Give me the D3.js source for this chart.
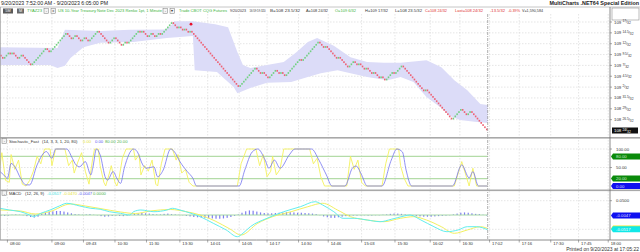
<!DOCTYPE html>
<html>
<head>
<meta charset="utf-8">
<script src="https://cdn.jsdelivr.net/npm/d3@7"></script>
<style>
  body { margin: 0; background: #fff; }
  svg { display: block; font-family: "Liberation Sans", Arial, sans-serif; }
</style>
</head>
<body>
<svg id="chart" width="640" height="252"></svg>
<script>
// renko turning points, price in 32nds above 108 (box = half a 32nd)
var pivots = [41.5, 40.5, 42, 41.5, 42, 40.5, 41.5, 40, 39, 43, 42, 46.5, 45, 46, 44.5, 45.5, 44.5, 47,
  44, 45, 45.5, 43.5, 44.5, 44, 45, 47, 46.5, 47, 45.5, 46.5, 45.5, 46.5, 46, 49, 47.5, 48, 47, 47.5,
  46.5, 47, 34, 38.5, 37, 37.5, 36, 38, 37, 37.5, 36.5, 40.5, 40, 44.5, 43, 43.5, 40.5, 41, 38.5, 40,
  39, 39.5, 38, 38.5, 37, 37.5, 36, 36.5, 35.5, 37.5, 37, 39, 33, 33.5, 26.5, 29, 27.5, 28.5, 24];
var box = 0.5;

var priceTicks = [49, 46.5, 44, 41.5, 39, 36.5, 34, 31.5, 29, 26.5];
var lastPrice = 24;

// envelope around price: [bar, price]
var bandUpper = [[0, 43.2], [31, 43.0], [33, 45.0], [35, 47.2], [54, 46.9], [70, 47.2], [89, 47.3], [92, 48.1],
  [94, 49.2], [104, 49.2], [116, 48.5], [123, 47.8], [128, 42.1], [131, 39.1], [135, 38.4], [144, 39.1],
  [153, 39.8], [160, 42.1], [166, 44.4], [171, 45.3], [180, 43.5], [189, 40.9], [198, 39.8], [207, 39.6],
  [216, 39.6], [230, 40.2], [238, 38.6], [245, 35.6], [252, 33.3], [259, 30.1], [263, 29.9]];
var bandLower = [[0, 39.1], [27, 39.1], [31, 38.4], [35, 38.9], [38, 40.7], [45, 43.2], [54, 44.2], [72, 44.4],
  [90, 45.3], [104, 45.8], [105, 37.9], [117, 37.5], [126, 34.0], [128, 32.6], [135, 33.8], [144, 35.0],
  [157, 35.2], [166, 36.3], [173, 37.2], [182, 37.9], [189, 37.2], [198, 36.3], [209, 35.6], [216, 36.3],
  [223, 35.2], [230, 31.7], [238, 29.2], [243, 27.3], [248, 26.4], [256, 26.0], [263, 25.7]];
var alerts = [[103, 48.5]];

var timeLabels = ["08:00", "09:00", "09:43", "10:30", "11:30", "13:30", "14:01", "14:05", "14:17", "14:30",
  "14:46", "15:03", "15:30", "16:02", "16:30", "17:02", "17:16", "17:30", "17:45", "18:00"];
var timeBars = [4, 28, 45, 62, 79, 97, 112, 129, 144, 161, 177, 195, 213, 232, 248, 264, 280, 297, 312, 328];

// Stochastic fast: [bar, value]
var stochK = [[0, 55], [1, 90], [3, 15], [5, 10], [6, 85], [8, 45], [10, 70], [12, 5], [14, 0], [16, 15], [18, 40],
  [20, 80], [22, 60], [24, 100], [27, 100], [28, 55], [30, 100], [35, 100], [37, 55], [39, 70], [40, 35], [42, 65],
  [44, 90], [46, 40], [48, 5], [50, 75], [51, 100], [53, 100], [54, 55], [56, 10], [57, 0], [59, 35], [60, 55],
  [62, 10], [63, 0], [64, 15], [66, 75], [68, 100], [72, 100], [73, 70], [75, 85], [76, 30], [78, 55], [80, 40],
  [82, 70], [84, 5], [85, 0], [87, 60], [89, 100], [93, 100], [95, 70], [96, 85], [98, 35], [100, 45], [102, 10],
  [104, 0], [128, 0], [130, 60], [133, 100], [138, 100], [140, 55], [142, 85], [144, 25], [146, 40], [147, 80],
  [149, 30], [151, 45], [153, 100], [167, 100], [169, 60], [171, 75], [173, 25], [175, 0], [187, 0], [189, 80],
  [191, 45], [193, 70], [195, 10], [197, 0], [206, 0], [208, 60], [210, 100], [215, 100], [216, 55], [218, 20],
  [220, 0], [245, 0], [249, 66], [253, 0], [255, 48], [257, 0], [263, 0]];
var stochD = [[0, 39], [2, 30], [4, 21], [6, 61], [8, 52], [11, 22], [14, 3], [16, 3], [20, 57], [25, 93], [28, 75],
  [30, 100], [36, 100], [39, 75], [41, 57], [43, 52], [46, 66], [49, 30], [50, 48], [52, 100], [54, 84], [57, 21],
  [58, 16], [61, 39], [63, 21], [65, 7], [67, 48], [72, 100], [74, 93], [77, 57], [79, 48], [83, 52], [85, 25],
  [88, 43], [92, 100], [94, 93], [97, 66], [101, 39], [104, 21], [106, 0], [129, 0], [132, 43], [136, 92],
  [139, 100], [143, 70], [145, 48], [148, 70], [151, 48], [156, 84], [159, 100], [168, 100], [172, 70], [176, 30],
  [179, 0], [186, 0], [190, 48], [192, 54], [195, 30], [198, 0], [206, 0], [211, 70], [214, 100], [217, 92],
  [219, 43], [222, 0], [244, 0], [249, 57], [253, 22], [255, 39], [258, 0], [263, 0]];
var stochLevels = [80, 20];

// MACD (12, 26, 9): [bar, value]
var macdLine = [[0, 0.0234], [5, 0.0175], [11, 0.0115], [16, 0], [18, -0.0059], [22, 0.0059], [27, 0.0175],
  [32, 0.0315], [36, 0.0409], [43, 0.0315], [49, 0.0234], [54, 0.02], [59, 0.0115], [65, 0.0059], [70, 0],
  [72, 0.0115], [76, 0.0175], [83, 0.0115], [90, 0.0175], [93, 0.0234], [97, 0.0175], [103, 0.0059],
  [108, -0.0059], [115, -0.029], [122, -0.0524], [128, -0.0759], [131, -0.064], [135, -0.0409], [144, -0.0115],
  [153, 0.0115], [162, 0.029], [170, 0.0465], [174, 0.035], [180, 0.0115], [185, -0.0115], [191, -0.0115],
  [198, -0.0175], [205, -0.0234], [211, -0.015], [218, -0.0035], [221, 0], [227, -0.0175], [234, -0.0409],
  [241, -0.0584], [247, -0.0524], [252, -0.0409], [257, -0.0409], [263, -0.0517]];
var signalLine = [[0, 0.0175], [11, 0.014], [19, 0.0035], [27, 0.0122], [38, 0.0385], [46, 0.0315], [54, 0.0227],
  [65, 0.0105], [73, 0.0052], [81, 0.014], [92, 0.0192], [100, 0.0122], [108, 0], [116, -0.021], [124, -0.049],
  [130, -0.07], [139, -0.029], [147, -0.0059], [157, 0.0115], [166, 0.029], [174, 0.041], [182, 0.0175],
  [189, -0.0059], [198, -0.0175], [207, -0.0234], [216, -0.0115], [223, -0.0059], [230, -0.0175], [238, -0.0409],
  [245, -0.064], [252, -0.0524], [259, -0.0409], [263, -0.047]];
// histogram, one value every 2 bars
var macdHist = [-0.002, -0.003, -0.002, 0.001, 0.002, 0.001, -0.001, -0.004, -0.007, -0.009, -0.006,
  0.004, 0.008, 0.011, 0.013, 0.014, 0.014, 0.012, 0.009, 0.006, 0.003, 0.002, 0.001, 0.002, 0.003, 0.001, -0.001,
  -0.004, -0.006, -0.005, -0.003, -0.002, -0.003, -0.004, -0.002, 0.001, 0.004, 0.006, 0.007, 0.006, 0.005, 0.003,
  0.002, 0.002, 0.004, 0.005, 0.003, 0.002, 0.001, -0.001, -0.003, -0.005, -0.007, -0.008, -0.009, -0.010, -0.011,
  -0.012, -0.013, -0.013, -0.012, -0.010, -0.007, -0.003, 0.002, 0.008, 0.013, 0.016, 0.015, 0.012, 0.009, 0.007,
  0.006, 0.006, 0.007, 0.008, 0.009, 0.010, 0.010, 0.009, 0.008, 0.008, 0.007, 0.006, 0.005, 0.003, -0.001, -0.005,
  -0.008, -0.010, -0.010, -0.008, -0.006, -0.004, -0.003, -0.002, -0.002, -0.001, -0.001, -0.002, -0.002, -0.001,
  -0.001, 0.001, 0.002, 0.004, 0.005, 0.005, 0.004, 0.002, -0.001, -0.003, -0.004, -0.005, -0.006, -0.006, -0.006,
  -0.005, -0.004, -0.003, -0.002, -0.001, 0.002, 0.005, 0.008, 0.009, 0.008, 0.006, 0.004, 0.003, 0.001, -0.002];

var headerItems = [
  {x: 27, w: 15, t: "TYAZ23", c: "#3cb43c"},
  {x: 58, w: 104, t: "US 10-Year Treasury Note Dec 2023   Renko 1pt, 1 Minute", c: "#3cb43c"},
  {x: 179, w: 48, t: "Trade   CBOT   CQG   Futures", c: "#3cb43c"},
  {x: 230, w: 16, t: "9/20/2023", c: "#333"},
  {x: 249.5, w: 16, t: "16:59:59.320", c: "#333"},
  {x: 270, w: 30, t: "B=108 23.5/32", c: "#333"},
  {x: 306, w: 22, t: "A=108 24/32", c: "#333"},
  {x: 335, w: 21, t: "O=109 6/32", c: "#3cb43c"},
  {x: 365, w: 23, t: "H=109 17/32", c: "#333"},
  {x: 395, w: 27, t: "L=108 23.5/32", c: "#333"},
  {x: 425, w: 22, t: "C=108 24/32", c: "#e03030"},
  {x: 455, w: 28, t: "Last=108 24/32", c: "#e03030"},
  {x: 490, w: 15, t: "-13.5/32", c: "#e03030"},
  {x: 508, w: 12, t: "-0.39%", c: "#e03030"},
  {x: 522, w: 21, t: "V=1,590,584", c: "#333"}
];

// build the renko bricks from the turning points
var bricks = [];
for (var i = 1; i < pivots.length; i++) {
  var a = pivots[i - 1], b = pivots[i];
  var dir = b > a ? 1 : -1;
  var n = Math.round(Math.abs(b - a) / box);
  for (var s = 0; s < n; s++) {
    var p0 = a + dir * box * s;
    bricks.push({lo: Math.min(p0, p0 + dir * box), hi: Math.max(p0, p0 + dir * box), up: dir > 0});
  }
}

var svg = d3.select("#chart");
var plotRight = 610, lastX = 487.7;

var x = d3.scaleLinear().domain([0, bricks.length]).range([0, lastX]);
var yP = d3.scaleLinear().domain([24, 49]).range([130.5, 22]);
var yS = d3.scaleLinear().domain([0, 100]).range([186, 149]);
var yM = d3.scaleLinear().domain([0, 0.05]).range([215, 200.7]);

var panes = [{top: 14, bottom: 137}, {top: 138.5, bottom: 189.5}, {top: 191, bottom: 240}];
var defs = svg.append("defs");
panes.forEach(function(p, k) {
  defs.append("clipPath").attr("id", "clip" + k)
    .append("rect").attr("x", 0).attr("y", p.top).attr("width", plotRight).attr("height", p.bottom - p.top);
});

svg.append("rect").attr("width", 640).attr("height", 252).attr("fill", "#fff");

// title row
svg.append("text").attr("x", 1).attr("y", 5.2).attr("font-size", 5.2).attr("fill", "#222")
  .attr("textLength", 107).attr("lengthAdjust", "spacingAndGlyphs")
  .text("9/20/2023 7:52:00 AM - 9/20/2023 6:05:00 PM");
svg.append("text").attr("x", 639).attr("y", 5.4).attr("font-size", 5.4).attr("font-weight", "bold")
  .attr("text-anchor", "end").attr("fill", "#222")
  .text("MultiCharts .NET64 Special Edition");
svg.append("line").attr("x1", 0).attr("x2", 640).attr("y1", 7).attr("y2", 7).attr("stroke", "#b8b8b8").attr("stroke-width", 0.8);

// grid
var grid = svg.append("g").attr("stroke", "#d4d4d4").attr("stroke-width", 0.6).attr("stroke-dasharray", "1.5,1.5");
timeBars.forEach(function(b) {
  if (x(b) < plotRight - 1) {
    grid.append("line").attr("x1", x(b)).attr("x2", x(b)).attr("y1", 14).attr("y2", 240);
  }
});
priceTicks.forEach(function(p) {
  grid.append("line").attr("x1", 0).attr("x2", plotRight).attr("y1", yP(p)).attr("y2", yP(p));
});
[100, 50].forEach(function(v) {
  grid.append("line").attr("x1", 0).attr("x2", plotRight).attr("y1", yS(v)).attr("y2", yS(v));
});
[0.05, -0.05].forEach(function(v) {
  grid.append("line").attr("x1", 0).attr("x2", plotRight).attr("y1", yM(v)).attr("y2", yM(v));
});

// ---- price pane
var gP = svg.append("g").attr("clip-path", "url(#clip0)");
var bandLine = d3.line().x(function(d) { return x(d[0]); }).y(function(d) { return yP(d[1]); });
gP.append("path")
  .attr("d", bandLine(bandUpper) + "L" + bandLine(bandLower.slice().reverse()).slice(1) + "Z")
  .attr("fill", "#dcdcf8").attr("stroke", "none");

gP.selectAll("rect.brick").data(bricks).enter().append("rect")
  .attr("class", "brick")
  .attr("x", function(d, i) { return x(i) + 0.15; })
  .attr("width", x(1) - x(0) - 0.3)
  .attr("y", function(d) { return yP(d.hi) + 0.2; })
  .attr("height", function(d) { return yP(d.lo) - yP(d.hi) - 0.4; })
  .attr("fill", function(d) { return d.up ? "#72d182" : "#ee6275"; });

gP.selectAll("circle.alert").data(alerts).enter().append("circle")
  .attr("cx", function(d) { return x(d[0]); }).attr("cy", function(d) { return yP(d[1]); })
  .attr("r", 1.4).attr("fill", "#e8102a");

// ---- stochastic pane
var gS = svg.append("g").attr("clip-path", "url(#clip1)");
stochLevels.forEach(function(v) {
  gS.append("line").attr("x1", 0).attr("x2", lastX).attr("y1", yS(v)).attr("y2", yS(v))
    .attr("stroke", "#b4dca8").attr("stroke-width", 1.1);
});
gS.append("path").datum(stochK)
  .attr("d", d3.line().x(function(d) { return x(d[0]); }).y(function(d) { return yS(d[1]); }))
  .attr("fill", "none").attr("stroke", "#f4f25e").attr("stroke-width", 0.9);
gS.append("path").datum(stochD)
  .attr("d", d3.line().curve(d3.curveMonotoneX).x(function(d) { return x(d[0]); }).y(function(d) { return yS(d[1]); }))
  .attr("fill", "none").attr("stroke", "#7474f0").attr("stroke-width", 0.8);

// ---- MACD pane
var gM = svg.append("g").attr("clip-path", "url(#clip2)");
gM.selectAll("rect.hist").data(macdHist).enter().append("rect")
  .attr("x", function(d, k) { return x(2 * k + 0.5) - 0.6; })
  .attr("width", 1.2)
  .attr("y", function(d) { return Math.min(yM(0), yM(d)); })
  .attr("height", function(d) { return Math.abs(yM(d) - yM(0)); })
  .attr("fill", "#7e7ef0");
gM.append("line").attr("x1", 0).attr("x2", lastX).attr("y1", yM(0)).attr("y2", yM(0))
  .attr("stroke", "#9cd49c").attr("stroke-width", 0.9);
var macdPath = d3.line().curve(d3.curveMonotoneX).x(function(d) { return x(d[0]); }).y(function(d) { return yM(d[1]); });
gM.append("path").datum(signalLine).attr("d", macdPath)
  .attr("fill", "none").attr("stroke", "#f2f060").attr("stroke-width", 1);
gM.append("path").datum(macdLine).attr("d", macdPath)
  .attr("fill", "none").attr("stroke", "#62eeee").attr("stroke-width", 1);

// last bar marker
svg.append("line").attr("x1", lastX).attr("x2", lastX).attr("y1", 14).attr("y2", 240)
  .attr("stroke", "#8a8a8a").attr("stroke-width", 0.7).attr("stroke-dasharray", "3,1,1,1");

// pane separators and frame
[[137, 1.6], [189.5, 1.6]].forEach(function(s) {
  svg.append("rect").attr("x", 0).attr("y", s[0]).attr("width", 640).attr("height", s[1]).attr("fill", "#a9a9a9");
});
svg.append("line").attr("x1", plotRight).attr("x2", plotRight).attr("y1", 7).attr("y2", 240)
  .attr("stroke", "#707070").attr("stroke-width", 0.8);
svg.append("line").attr("x1", 0).attr("x2", 640).attr("y1", 240).attr("y2", 240)
  .attr("stroke", "#707070").attr("stroke-width", 0.8);
svg.append("line").attr("x1", 0.4).attr("x2", 0.4).attr("y1", 7).attr("y2", 240)
  .attr("stroke", "#a0a0a0").attr("stroke-width", 0.8);
svg.append("rect").attr("x", 612).attr("y", 8).attr("width", 27).attr("height", 12)
  .attr("fill", "#fff").attr("stroke", "#909090").attr("stroke-width", 0.6);

// toolbar row
function iconBox(cx, cy, label) {
  svg.append("rect").attr("x", cx).attr("y", cy).attr("width", 4.6).attr("height", 4.6)
    .attr("fill", "#f4f4f4").attr("stroke", "#7a7a7a").attr("stroke-width", 0.5);
  svg.append("text").attr("x", cx + 2.3).attr("y", cy + 3.7).attr("font-size", 4).attr("text-anchor", "middle")
    .attr("fill", "#333").text(label);
}
svg.append("rect").attr("x", 3).attr("y", 8.5).attr("width", 10).attr("height", 5).attr("fill", "#5a5a5a");
svg.append("text").attr("x", 8).attr("y", 12.3).attr("font-size", 3.8).attr("text-anchor", "middle").attr("fill", "#fff").text("5M");
svg.append("rect").attr("x", 17).attr("y", 8.5).attr("width", 7).attr("height", 5).attr("fill", "#6a6a6a");
svg.append("text").attr("x", 20.5).attr("y", 12.3).attr("font-size", 3.8).attr("text-anchor", "middle").attr("fill", "#fff").text("M");
iconBox(44, 8.7, "-"); iconBox(51, 8.7, "x");
iconBox(163, 8.7, "-"); iconBox(170, 8.7, "\u25BE");
headerItems.forEach(function(h) {
  svg.append("text").attr("x", h.x).attr("y", 12.4).attr("font-size", 3.4).attr("fill", h.c)
    .attr("textLength", h.w).attr("lengthAdjust", "spacingAndGlyphs").text(h.t);
});

// indicator titles
function paneTitle(y, parts) {
  iconBox(2, y - 3.9, "-");
  parts.forEach(function(p) {
    svg.append("text").attr("x", p[0]).attr("y", y).attr("font-size", 4.2).attr("fill", p[2]).text(p[1]);
  });
}
paneTitle(142.6, [[9, "Stochastic_Fast", "#333"], [42, "(14, 3, 3, 1, 20, 80)", "#333"],
  [83, "0.00", "#e4e23a"], [95, "0.00", "#5a5af0"], [105, "80.00", "#4caf4c"], [117, "20.00", "#4caf4c"]]);
paneTitle(194.8, [[9, "MACD", "#333"], [25, "(12, 26, 9)", "#333"], [47, "-0.0517", "#38e0e0"],
  [63, "-0.0470", "#e4e23a"], [78, "-0.0047", "#5a5af0"], [93, "0.0000", "#4caf4c"]]);

// right price axis
function fracText(sel, p) {
  var whole = 108 + Math.floor(p / 32);
  var f = p - 32 * Math.floor(p / 32);
  sel.text(whole + " ");
  sel.append("tspan").attr("font-size", 3.3).attr("dy", -1.2).text(f);
  sel.append("tspan").attr("font-size", 3.8).attr("dy", 0.6).text("/");
  sel.append("tspan").attr("font-size", 3.3).attr("dy", 1.2).text("32");
}
priceTicks.forEach(function(p) {
  svg.append("line").attr("x1", plotRight).attr("x2", plotRight + 2).attr("y1", yP(p)).attr("y2", yP(p))
    .attr("stroke", "#707070").attr("stroke-width", 0.6);
  fracText(svg.append("text").attr("x", 614).attr("y", yP(p) + 1.5).attr("font-size", 4.3).attr("fill", "#333"), p);
});
svg.append("rect").attr("x", 612).attr("y", yP(lastPrice) - 3).attr("width", 26).attr("height", 6).attr("fill", "#111");
fracText(svg.append("text").attr("x", 614).attr("y", yP(lastPrice) + 1.5).attr("font-size", 4.3).attr("fill", "#fff"), lastPrice);

// right stochastic / MACD axis
function axisLabel(y, txt) {
  svg.append("line").attr("x1", plotRight).attr("x2", plotRight + 2).attr("y1", y).attr("y2", y)
    .attr("stroke", "#707070").attr("stroke-width", 0.6);
  svg.append("text").attr("x", 616).attr("y", y + 1.5).attr("font-size", 4.3).attr("fill", "#333").text(txt);
}
function axisBox(y, txt, bg, fg) {
  svg.append("path").attr("d", "M611," + y + "L613," + (y - 3) + "H640V" + (y + 3) + "H613Z").attr("fill", bg);
  svg.append("text").attr("x", 616).attr("y", y + 1.5).attr("font-size", 4.3).attr("fill", fg).text(txt);
}
axisLabel(yS(100), "100.00");
axisLabel(yS(50), "50.00");
axisBox(yS(80), "80.00", "#0a8a0a", "#cfe8cf");
axisBox(yS(20), "20.00", "#0a8a0a", "#cfe8cf");
axisBox(yS(0), "0.00", "#1010f0", "#dcdcff");
axisLabel(yM(0.05), "0.0500");
axisBox(yM(0) + 0.6, "-0.0047", "#1010f0", "#dcdcff");
axisBox(yM(-0.047), "-0.0470", "#e8e830", "#fff");
axisBox(yM(-0.0517) - 0.5, "-0.0517", "#10e8e8", "#fff");

// time axis
timeBars.forEach(function(b, k) {
  var tx = x(b);
  svg.append("line").attr("x1", tx).attr("x2", tx).attr("y1", 240).attr("y2", 242.5)
    .attr("stroke", "#707070").attr("stroke-width", 0.6);
  svg.append("text").attr("x", tx + 2.5).attr("y", 245).attr("font-size", 4.2).attr("fill", "#333").text(timeLabels[k]);
});
svg.append("text").attr("x", 639).attr("y", 250.5).attr("font-size", 5).attr("text-anchor", "end").attr("fill", "#333")
  .text("Printed on 9/20/2023 at 17:05:22");
</script>
</body>
</html>
